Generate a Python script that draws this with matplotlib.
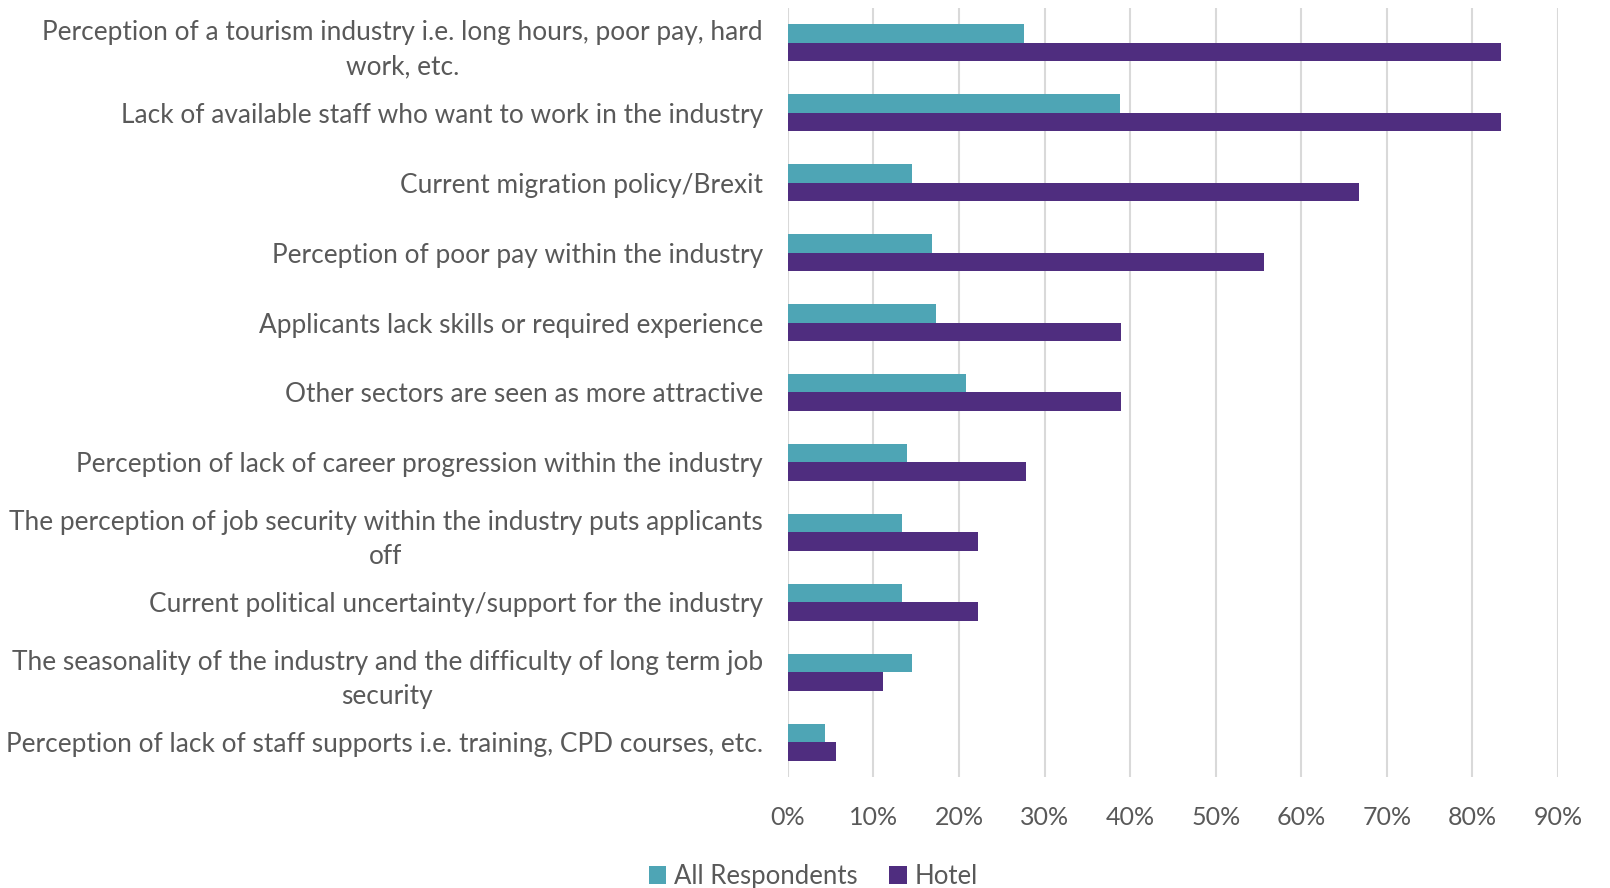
import matplotlib
matplotlib.use("Agg")
import matplotlib.pyplot as plt
import numpy as np

categories = [
    "Perception of a tourism industry i.e. long hours, poor pay, hard\nwork, etc.",
    "Lack of available staff who want to work in the industry",
    "Current migration policy/Brexit",
    "Perception of poor pay within the industry",
    "Applicants lack skills or required experience",
    "Other sectors are seen as more attractive",
    "Perception of lack of career progression within the industry",
    "The perception of job security within the industry puts applicants\noff",
    "Current political uncertainty/support for the industry",
    "The seasonality of the industry and the difficulty of long term job\nsecurity",
    "Perception of lack of staff supports i.e. training, CPD courses, etc.",
]
all_respondents = [27.6, 38.8, 14.5, 16.8, 17.3, 20.8, 13.9, 13.3, 13.3, 14.5, 4.3]
hotel = [83.3, 83.3, 66.7, 55.6, 38.9, 38.9, 27.8, 22.2, 22.2, 11.1, 5.6]
xticks = [0, 10, 20, 30, 40, 50, 60, 70, 80, 90]
xtick_labels = ["0%", "10%", "20%", "30%", "40%", "50%", "60%", "70%", "80%", "90%"]
series_names = ["All Respondents", "Hotel"]

teal = "#4EA5B5"
purple = "#4F2D7F"
text_color = "#595959"

plt.rcParams['font.family'] = ['Lato', 'DejaVu Sans']

fig = plt.figure(figsize=(16.1, 8.88), dpi=100)
ax = fig.add_axes([0.4894, 0.125, 0.4783, 0.866])

y = np.arange(len(categories))
h = 0.265
ax.barh(y - h / 2, all_respondents, height=h, color=teal, label=series_names[0], zorder=3)
ax.barh(y + h / 2, hotel, height=h, color=purple, label=series_names[1], zorder=3)

ax.set_ylim(len(categories) - 0.5, -0.5)
ax.set_xlim(0, 90)
ax.set_yticks(y)
ax.set_yticklabels(categories, fontsize=18.9, color=text_color)
for lbl in ax.get_yticklabels():
    lbl.set_multialignment('center')
    lbl.set_linespacing(1.45)
ax.set_xticks(xticks)
ax.set_xticklabels(xtick_labels, fontsize=18, color=text_color)
ax.tick_params(axis='y', length=0, pad=18)
ax.tick_params(axis='x', length=0, pad=21)
for s in ax.spines.values():
    s.set_visible(False)
ax.grid(axis='x', color="#D9D9D9", linewidth=1.5, zorder=0)
ax.set_axisbelow(True)

fig.legend(loc='center', bbox_to_anchor=(0.505, 0.013), ncol=2, frameon=False,
           fontsize=18.5, labelcolor=text_color, handlelength=0.7, handleheight=0.7,
           handletextpad=0.3, columnspacing=1.2)

fig.savefig("out.png", dpi=100)
